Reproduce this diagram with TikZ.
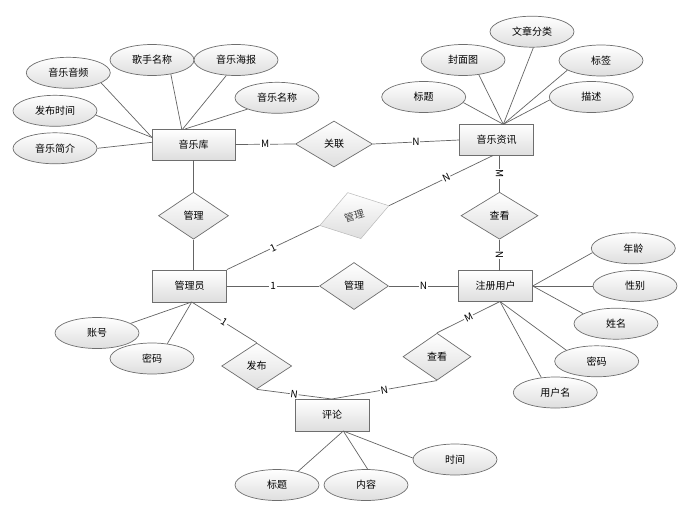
\documentclass[tikz,border=0pt]{standalone}
\usepackage{fontspec}
\setmainfont{Noto Sans CJK SC}
\usetikzlibrary{shapes.geometric}
\definecolor{edgecol}{RGB}{100,100,100}
\definecolor{bordcol}{RGB}{110,110,110}
\definecolor{shadecol}{RGB}{222,222,222}
\tikzset{
  every node/.style={font=\fontsize{10}{12}\selectfont, text=black},
  ent/.style={rectangle, draw=bordcol, line width=0.8pt, top color=white, bottom color=shadecol,
    minimum width=74pt, minimum height=31pt, inner sep=0pt},
  rel/.style={diamond, draw=bordcol, line width=0.7pt, top color=white, bottom color=shadecol,
    aspect=1.5, inner sep=0pt},
  attr/.style={ellipse, draw=bordcol, line width=0.7pt, top color=white, bottom color=shadecol,
    minimum width=84pt, minimum height=31pt, inner sep=0pt},
  conn/.style={draw=edgecol, line width=0.7pt},
  card/.style={fill=white, inner sep=0.8pt, font=\fontsize{10}{12}\selectfont},
}
\begin{document}
\begin{tikzpicture}[x=1pt, y=-1pt]
\useasboundingbox (0,0) rectangle (687,509);

% entities
\node[ent, minimum width=83pt] (lib) at (193.5,144.5) {音乐库};
\node[ent] (news) at (496.5,140) {音乐资讯};
\node[ent, minimum height=32pt] (admin) at (189.5,286) {管理员};
\node[ent] (user) at (495.5,286) {注册用户};
\node[ent, minimum height=32pt] (cmt) at (332,415) {评论};

% relationships
\node[rel, minimum width=77pt, minimum height=46pt] (rglian) at (334,144) {关联};
\node[rel, minimum width=70pt, minimum height=47pt] (rgl1) at (193.5,215.7) {管理};
\node[rel, minimum width=72pt, minimum height=48pt, rotate=16, draw=gray!55, line width=0.5pt, text=black!75] (rgl2) at (354.3,215.6) {管理};
\node[rel, minimum width=77pt, minimum height=47pt] (rck1) at (499.5,215.7) {查看};
\node[rel, minimum width=69pt, minimum height=47pt] (rgl3) at (354,286) {管理};
\node[rel, minimum width=70pt, minimum height=46pt] (rfb) at (256.7,366) {发布};
\node[rel, minimum width=68pt, minimum height=47pt] (rck2) at (437,356.7) {查看};

% attributes of 音乐库
\node[attr] (aud) at (68.3,72.8) {音乐音频};
\node[attr] (sing) at (152,60) {歌手名称};
\node[attr] (post) at (236,60) {音乐海报};
\node[attr] (mname) at (277,97.8) {音乐名称};
\node[attr] (ptime) at (55,110.8) {发布时间};
\node[attr] (intro) at (55,148.3) {音乐简介};

% attributes of 音乐资讯
\node[attr] (ncat) at (532,31.7) {文章分类};
\node[attr] (ncov) at (463,60) {封面图};
\node[attr] (ntag) at (601,60.5) {标签};
\node[attr] (ntit) at (423.7,97) {标题};
\node[attr] (ndesc) at (591.3,97) {描述};

% attributes of 管理员
\node[attr] (acc) at (97,333) {账号};
\node[attr] (apw) at (152,358.5) {密码};

% attributes of 注册用户
\node[attr] (uage) at (633.3,248.3) {年龄};
\node[attr] (usex) at (635,286) {性别};
\node[attr] (uname) at (616,323.7) {姓名};
\node[attr] (upw) at (596.7,361.3) {密码};
\node[attr] (uuser) at (555.3,392.5) {用户名};

% attributes of 评论
\node[attr] (ctit) at (277,485) {标题};
\node[attr] (ccon) at (366,485) {内容};
\node[attr] (ctime) at (455,459.5) {时间};

% connection points
\coordinate (libL1) at (152,137.5);
\coordinate (libL2) at (152,142.3);
\coordinate (libT1) at (181.7,129);
\coordinate (libT2) at (182.7,129);
\coordinate (libT3) at (185,129);
\coordinate (newsT) at (503.3,124.3);
\coordinate (newsB1) at (493,155.5);
\coordinate (newsB2) at (499.5,155.5);
\coordinate (admT) at (193.5,270);
\coordinate (admB) at (191.7,302);
\coordinate (usrT) at (499.5,270.5);
\coordinate (usrB) at (500,301.5);
\coordinate (usrR) at (532.7,286);
\coordinate (cmtT) at (331.7,399);
\coordinate (cmtB) at (343.3,431);

% attribute lines
\draw[conn] (aud.-17) -- (libL1);
\draw[conn] (ptime.-6) -- (libL1);
\draw[conn] (intro.east) -- (libL2);
\draw[conn] (sing.-37) -- (libT1);
\draw[conn] (post.-122) -- (libT2);
\draw[conn] (mname.-159) -- (libT3);

\draw[conn] (ntit.-8) -- (newsT);
\draw[conn] (ncov.-43) -- (newsT);
\draw[conn] (ncat.-85) -- (newsT);
\draw[conn] (ntag.-164) -- (newsT);
\draw[conn] (ndesc.-176) -- (newsT);

\draw[conn] (acc.16) -- (admB);
\draw[conn] (apw.44) -- (admB);

\draw[conn] (uage.-174) -- (usrR);
\draw[conn] (usex.west) -- (usrR);
\draw[conn] (uname.163) -- (usrR);
\draw[conn] (upw.160) -- (usrB);
\draw[conn] (uuser.133) -- (usrB);

\draw[conn] (ctit.33) -- (cmtB);
\draw[conn] (ccon.84) -- (cmtB);
\draw[conn] (ctime.178) -- (cmtB);

% relationship lines
\draw[conn] (lib.east) -- (rglian.west) node[card, pos=0.5] {M};
\draw[conn] (rglian.east) -- (news.west) node[card, pos=0.5] {N};

\draw[conn] (lib.south -| rgl1.north) -- (rgl1.north);
\draw[conn] (rgl1.south) -- (admT);

\draw[conn] (admin.north east) -- (rgl2.west) node[card, pos=0.5, sloped] {1};
\draw[conn] (rgl2.east) -- (newsB1) node[card, pos=0.55, sloped] {N};

\draw[conn] (newsB2) -- (rck1.north) node[card, pos=0.5, rotate=-90] {M};
\draw[conn] (rck1.south) -- (usrT) node[card, pos=0.5, rotate=90] {N};

\draw[conn] (admin.east) -- (rgl3.west) node[card, pos=0.5] {1};
\draw[conn] (rgl3.east) -- (user.west) node[card, pos=0.5] {N};

\draw[conn] (admB) -- (rfb.north) node[card, pos=0.5, sloped] {1};
\draw[conn] (rfb.south) -- (cmtT) node[card, pos=0.5, sloped] {N};
\draw[conn] (rck2.south) -- (cmtT) node[card, pos=0.5, sloped] {N};
\draw[conn] (rck2.north) -- (usrB) node[card, pos=0.5, sloped] {M};
\end{tikzpicture}
\end{document}
